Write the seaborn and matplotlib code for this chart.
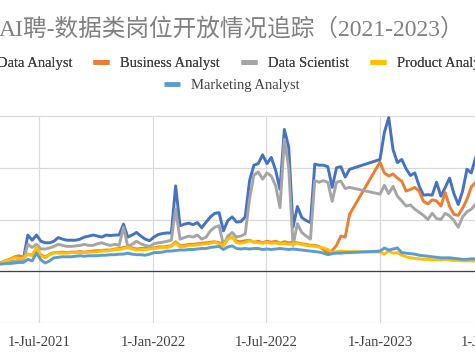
import pandas as pd
import matplotlib
matplotlib.use('Agg')
import matplotlib.pyplot as plt
import matplotlib.dates as mdates
from matplotlib.lines import Line2D
import seaborn as sns

# weekly snapshots, no data between mid-Nov 2022 and the new year
seg_starts = ['2021-04-25', '2023-01-01']
seg_weeks = [82, 23]

series_names = ['Data Analyst', 'Business Analyst', 'Data Scientist',
                'Product Analyst', 'Marketing Analyst']
colors = ['#4472C4', '#ED7D31', '#A5A5A5', '#FFC000', '#5B9BD5']

data_analyst = [
    0.14, 0.16, 0.17, 0.18, 0.19, 0.20, 0.24, 0.70, 0.60, 0.70,
    0.58, 0.55, 0.55, 0.58, 0.65, 0.62, 0.60, 0.60, 0.60, 0.62,
    0.66, 0.68, 0.70, 0.68, 0.66, 0.70, 0.69, 0.70, 0.70, 0.91,
    0.66, 0.70, 0.75, 0.68, 0.62, 0.59, 0.66, 0.71, 0.73, 0.74,
    0.74, 1.65, 0.88, 0.91, 0.93, 0.90, 0.94, 0.84, 0.95, 1.05,
    1.12, 1.13, 0.78, 0.98, 1.05, 0.95, 0.96, 1.05, 1.75, 2.05,
    2.08, 2.25, 2.08, 2.20, 1.95, 1.58, 2.74, 2.40, 0.85, 1.25,
    1.04, 0.98, 0.94, 2.07, 2.05, 2.05, 2.02, 1.62, 2.00, 2.02,
    1.82, 1.97,
    2.16, 2.68, 2.97, 2.35, 2.10, 2.16, 1.98, 1.85, 1.90, 1.65,
    1.47, 1.48, 1.47, 1.72, 1.45, 1.62, 1.80, 1.50, 1.29, 1.55,
    1.97, 1.90, 2.20,
]
business_analyst = [
    0.15, 0.17, 0.21, 0.24, 0.28, 0.30, 0.27, 0.33, 0.31, 0.43,
    0.32, 0.27, 0.33, 0.36, 0.36, 0.37, 0.36, 0.37, 0.37, 0.38,
    0.37, 0.38, 0.39, 0.40, 0.40, 0.41, 0.41, 0.43, 0.44, 0.46,
    0.47, 0.45, 0.43, 0.44, 0.44, 0.45, 0.45, 0.47, 0.47, 0.48,
    0.49, 0.57, 0.49, 0.50, 0.52, 0.52, 0.53, 0.54, 0.55, 0.56,
    0.57, 0.55, 0.51, 0.64, 0.66, 0.58, 0.57, 0.59, 0.60, 0.56,
    0.58, 0.55, 0.58, 0.56, 0.58, 0.54, 0.57, 0.55, 0.56, 0.55,
    0.53, 0.52, 0.50, 0.50, 0.48, 0.42, 0.35, 0.40, 0.50, 0.68,
    0.66, 1.10,
    2.11, 1.90, 1.84, 1.88, 1.80, 1.74, 1.55, 1.58, 1.62, 1.55,
    1.35, 1.30, 1.38, 1.36, 1.26, 1.52, 1.25, 1.10, 1.08, 1.22,
    1.39, 1.63, 1.72,
]
data_scientist = [
    0.14, 0.15, 0.17, 0.18, 0.19, 0.20, 0.22, 0.52, 0.46, 0.52,
    0.43, 0.43, 0.45, 0.48, 0.52, 0.50, 0.48, 0.48, 0.49, 0.50,
    0.52, 0.50, 0.50, 0.53, 0.55, 0.52, 0.50, 0.52, 0.50, 0.85,
    0.48, 0.52, 0.58, 0.53, 0.50, 0.48, 0.53, 0.55, 0.56, 0.58,
    0.60, 1.20, 0.62, 0.65, 0.68, 0.66, 0.70, 0.62, 0.66, 0.78,
    0.85, 0.88, 0.50, 0.68, 0.75, 0.66, 0.68, 0.72, 1.40, 1.86,
    1.92, 1.78, 1.90, 1.84, 1.65, 1.23, 2.55, 2.00, 0.50, 0.92,
    0.75, 0.68, 0.62, 1.75, 1.72, 1.75, 1.72, 1.35, 1.72, 1.74,
    1.60, 1.62,
    1.49, 1.66, 1.50, 1.64, 1.45, 1.36, 1.26, 1.28, 1.20, 1.14,
    1.08, 1.00, 1.12, 1.02, 1.00, 1.12, 1.07, 0.98, 0.85, 1.05,
    1.15, 1.20, 1.30,
]
product_analyst = [
    0.15, 0.17, 0.20, 0.23, 0.26, 0.25, 0.25, 0.33, 0.30, 0.46,
    0.30, 0.26, 0.32, 0.36, 0.35, 0.35, 0.35, 0.36, 0.36, 0.36,
    0.36, 0.37, 0.37, 0.38, 0.39, 0.39, 0.40, 0.42, 0.42, 0.44,
    0.46, 0.43, 0.41, 0.42, 0.42, 0.43, 0.44, 0.45, 0.46, 0.46,
    0.48, 0.55, 0.47, 0.48, 0.50, 0.50, 0.51, 0.52, 0.53, 0.54,
    0.56, 0.53, 0.49, 0.62, 0.66, 0.55, 0.54, 0.56, 0.59, 0.57,
    0.55, 0.54, 0.56, 0.54, 0.55, 0.53, 0.54, 0.52, 0.53, 0.54,
    0.52, 0.50, 0.49, 0.48, 0.47, 0.45, 0.42, 0.36, 0.38, 0.39,
    0.38, 0.38,
    0.37, 0.33, 0.39, 0.35, 0.36, 0.31, 0.28, 0.26, 0.25, 0.24,
    0.23, 0.23, 0.22, 0.22, 0.22, 0.23, 0.22, 0.21, 0.21, 0.20,
    0.20, 0.20, 0.20,
]
marketing_analyst = [
    0.13, 0.14, 0.15, 0.15, 0.16, 0.17, 0.17, 0.23, 0.20, 0.35,
    0.22, 0.16, 0.20, 0.26, 0.27, 0.28, 0.28, 0.28, 0.29, 0.30,
    0.29, 0.30, 0.30, 0.30, 0.31, 0.31, 0.32, 0.32, 0.33, 0.33,
    0.35, 0.33, 0.32, 0.32, 0.31, 0.33, 0.36, 0.36, 0.37, 0.39,
    0.39, 0.40, 0.41, 0.41, 0.42, 0.42, 0.43, 0.44, 0.44, 0.46,
    0.47, 0.48, 0.42, 0.47, 0.49, 0.44, 0.43, 0.44, 0.43, 0.44,
    0.44, 0.42, 0.43, 0.42, 0.43, 0.44, 0.43, 0.42, 0.43, 0.42,
    0.41, 0.40, 0.39, 0.38, 0.37, 0.35, 0.32, 0.34, 0.35, 0.35,
    0.36, 0.36,
    0.39, 0.45, 0.41, 0.43, 0.45, 0.36, 0.35, 0.34, 0.33, 0.31,
    0.30, 0.29, 0.28, 0.27, 0.26, 0.26, 0.26, 0.25, 0.24, 0.23,
    0.23, 0.24, 0.24,
]

title = 'AI聘-数据类岗位开放情况追踪（2021-2023）'


def main():
    dates = pd.DatetimeIndex([])
    for start, n in zip(seg_starts, seg_weeks):
        dates = dates.append(pd.date_range(start, periods=n, freq='7D'))

    values = [data_analyst, business_analyst, data_scientist,
              product_analyst, marketing_analyst]
    frames = []
    for name, vals in zip(series_names, values):
        frames.append(pd.DataFrame({'date': dates, 'value': vals, 'series': name}))
    df = pd.concat(frames, ignore_index=True)

    sns.set_theme(style='white')
    plt.rcParams['font.family'] = ['Liberation Serif', 'Noto Sans CJK SC']

    W, H = 475, 356
    fig = plt.figure(figsize=(W / 100, H / 100), dpi=100)
    # the picture is a crop of a wider chart, so the plot area runs off both sides
    left_px, right_px, top_px, bottom_px = -60, 530, 116, 323
    ax = fig.add_axes([left_px / W, 1 - bottom_px / H,
                       (right_px - left_px) / W, (bottom_px - top_px) / H])

    palette = dict(zip(series_names, colors))
    sns.lineplot(data=df, x='date', y='value', hue='series', hue_order=series_names,
                 palette=palette, linewidth=2.1, legend=False, ax=ax)

    ref = pd.Timestamp('2021-07-01')
    px_per_day = 341 / 549
    ax.set_xlim(ref - pd.Timedelta(days=(39 - left_px) / px_per_day),
                ref + pd.Timedelta(days=(right_px - 39) / px_per_day))
    ax.set_ylim(-1, 3)
    ax.set_yticks([-1, 0, 1, 2, 3])
    ax.xaxis.set_major_locator(mdates.MonthLocator(bymonth=[1, 7]))
    ax.xaxis.set_major_formatter(mdates.DateFormatter('%-d-%b-%Y'))
    ax.grid(True, color='#D9D9D9', linewidth=0.9)
    ax.set_axisbelow(True)
    ax.axhline(0, color='#404040', linewidth=0.9, zorder=1.5)
    for s in ax.spines.values():
        s.set_visible(False)
    ax.tick_params(axis='x', length=0, pad=9, labelsize=10.5, colors='#404040')
    ax.tick_params(axis='y', length=0, labelleft=False)
    ax.set_xlabel('')
    ax.set_ylabel('')

    cx = 232 / W
    fig.text(cx, 1 - 29 / H, title, ha='center', va='center',
             fontsize=17, color='#808080')

    handles = [Line2D([], [], color=c, linewidth=3.5, solid_capstyle='butt') for c in colors]
    leg_kw = dict(frameon=False, fontsize=10.5, handlelength=1.1, handletextpad=0.75,
                  columnspacing=1.45, borderpad=0, labelcolor='#404040')
    leg1 = fig.legend(handles[:4], series_names[:4], ncol=4, loc='center',
                      bbox_to_anchor=(cx - 2 / W, 1 - 63 / H), **leg_kw)
    fig.add_artist(leg1)
    fig.legend(handles[4:], series_names[4:], ncol=1, loc='center',
               bbox_to_anchor=(cx, 1 - 85 / H), **leg_kw)

    fig.savefig('out.png', dpi=100)
    plt.close('all')


if __name__ == '__main__':
    main()
